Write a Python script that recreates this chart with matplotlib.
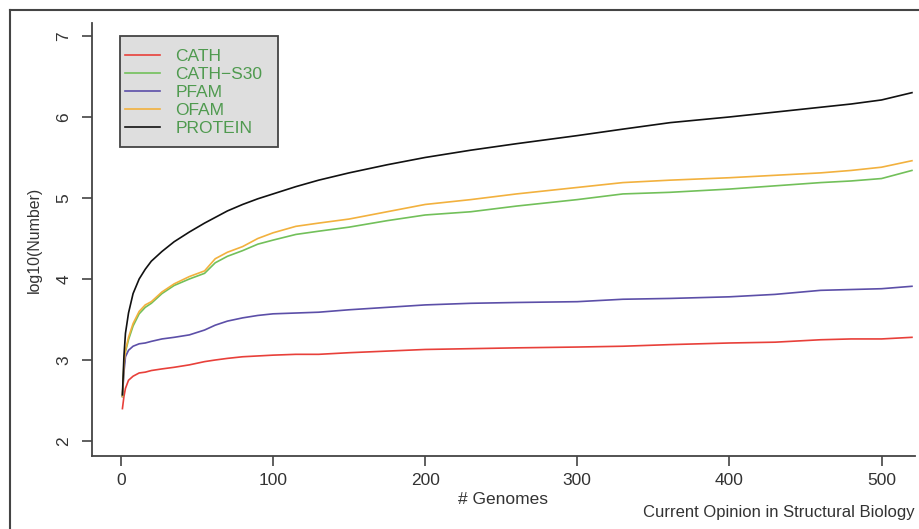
import matplotlib
matplotlib.use("Agg")
import matplotlib.pyplot as plt
from matplotlib.lines import Line2D
from matplotlib.patches import Rectangle

plt.rcParams['font.family'] = ['Liberation Sans', 'DejaVu Sans']

genomes = [1, 2, 3, 5, 8, 12, 16, 20, 27, 35, 45, 55, 62, 70, 80, 90, 100,
           115, 130, 150, 175, 200, 230, 260, 300, 330, 361, 400, 430, 460,
           480, 500, 520]

cath = [2.40, 2.55, 2.65, 2.75, 2.80, 2.84, 2.85, 2.87, 2.89, 2.91, 2.94, 2.98,
        3.00, 3.02, 3.04, 3.05, 3.06, 3.07, 3.07, 3.09, 3.11, 3.13, 3.14, 3.15,
        3.16, 3.17, 3.19, 3.21, 3.22, 3.25, 3.26, 3.26, 3.28]
cath_s30 = [2.55, 2.92, 3.10, 3.25, 3.42, 3.57, 3.65, 3.70, 3.82, 3.92, 4.00,
            4.07, 4.20, 4.28, 4.35, 4.43, 4.48, 4.55, 4.59, 4.64, 4.72, 4.79,
            4.83, 4.90, 4.98, 5.05, 5.07, 5.11, 5.15, 5.19, 5.21, 5.24, 5.34]
pfam = [2.55, 2.85, 3.04, 3.12, 3.17, 3.20, 3.21, 3.23, 3.26, 3.28, 3.31, 3.37,
        3.43, 3.48, 3.52, 3.55, 3.57, 3.58, 3.59, 3.62, 3.65, 3.68, 3.70, 3.71,
        3.72, 3.75, 3.76, 3.78, 3.81, 3.86, 3.87, 3.88, 3.91]
ofam = [2.55, 2.95, 3.12, 3.28, 3.45, 3.60, 3.68, 3.72, 3.84, 3.94, 4.03, 4.10,
        4.25, 4.33, 4.40, 4.50, 4.57, 4.65, 4.69, 4.74, 4.83, 4.92, 4.98, 5.05,
        5.13, 5.19, 5.22, 5.25, 5.28, 5.31, 5.34, 5.38, 5.46]
protein = [2.57, 3.05, 3.33, 3.58, 3.82, 4.00, 4.12, 4.22, 4.34, 4.46, 4.58,
           4.69, 4.76, 4.84, 4.92, 4.99, 5.05, 5.14, 5.22, 5.31, 5.41, 5.50,
           5.59, 5.67, 5.77, 5.85, 5.93, 6.00, 6.06, 6.12, 6.16, 6.21, 6.30]

labels = ["CATH", "CATH\u2212S30", "PFAM", "OFAM", "PROTEIN"]
series = [cath, cath_s30, pfam, ofam, protein]
colors = ["#e8403a", "#72c05a", "#5c4fa8", "#f2b13e", "#111111"]

x_ticks = [0, 100, 200, 300, 400, 500]
y_ticks = [2, 3, 4, 5, 6, 7]

fig = plt.figure(figsize=(9.2, 5.29), dpi=100)
ax = fig.add_axes([92/920, 1-456/529, (915-92)/920, (456-23)/529])

for vals, c in zip(series, colors):
    ax.plot(genomes, vals, color=c, lw=1.2)

ax.set_xlim(-19, 522)
ax.set_ylim(1.815, 7.16)
ax.set_xticks(x_ticks)
ax.set_yticks(y_ticks)
for s in ['top', 'right']:
    ax.spines[s].set_visible(False)
for s in ['left', 'bottom']:
    ax.spines[s].set_color('#444444')
    ax.spines[s].set_linewidth(1.3)
ax.tick_params(direction='out', length=7, width=1.2, color='#444444',
               labelsize=12.5, labelcolor='#333333')
ax.tick_params(axis='x', pad=5)
ax.tick_params(axis='y', pad=8)
for lab in ax.get_yticklabels():
    lab.set_rotation(90)
    lab.set_va('center')

ax.set_xlabel("# Genomes", fontsize=12.5, color='#333333', labelpad=3)
ax.set_ylabel("log10(Number)", fontsize=11.4, color='#333333', labelpad=10)

# legend box (frame drawn separately)
box = Rectangle((0.034, 0.7136), 0.226 - 0.034, 0.970 - 0.7136,
                transform=ax.transAxes, facecolor='#dedede',
                edgecolor='#444444', lw=1.3, zorder=4)
ax.add_patch(box)
handles = [Line2D([], [], color=c, lw=1.2) for c in colors]
leg = ax.legend(handles, labels, loc='upper left',
                bbox_to_anchor=(0.0401, 0.9411), borderaxespad=0,
                fontsize=12.5, handlelength=2.0, handletextpad=0.9,
                labelspacing=0.17, borderpad=0.0, frameon=False)
leg.set_zorder(5)
for t in leg.get_texts():
    t.set_color('#4f9a4f')

fig.text(915/920, 1-513/529, "Current Opinion in Structural Biology",
         ha='right', va='center', fontsize=12, color='#333333')

# outer frame
fig.add_artist(Line2D([10/920, 10/920], [-0.05, 1-10/529], color='#444444',
                      lw=1.5, transform=fig.transFigure))
fig.add_artist(Line2D([10/920, 1.05], [1-10/529, 1-10/529], color='#444444',
                      lw=1.5, transform=fig.transFigure))

fig.savefig("out.png", dpi=100)
